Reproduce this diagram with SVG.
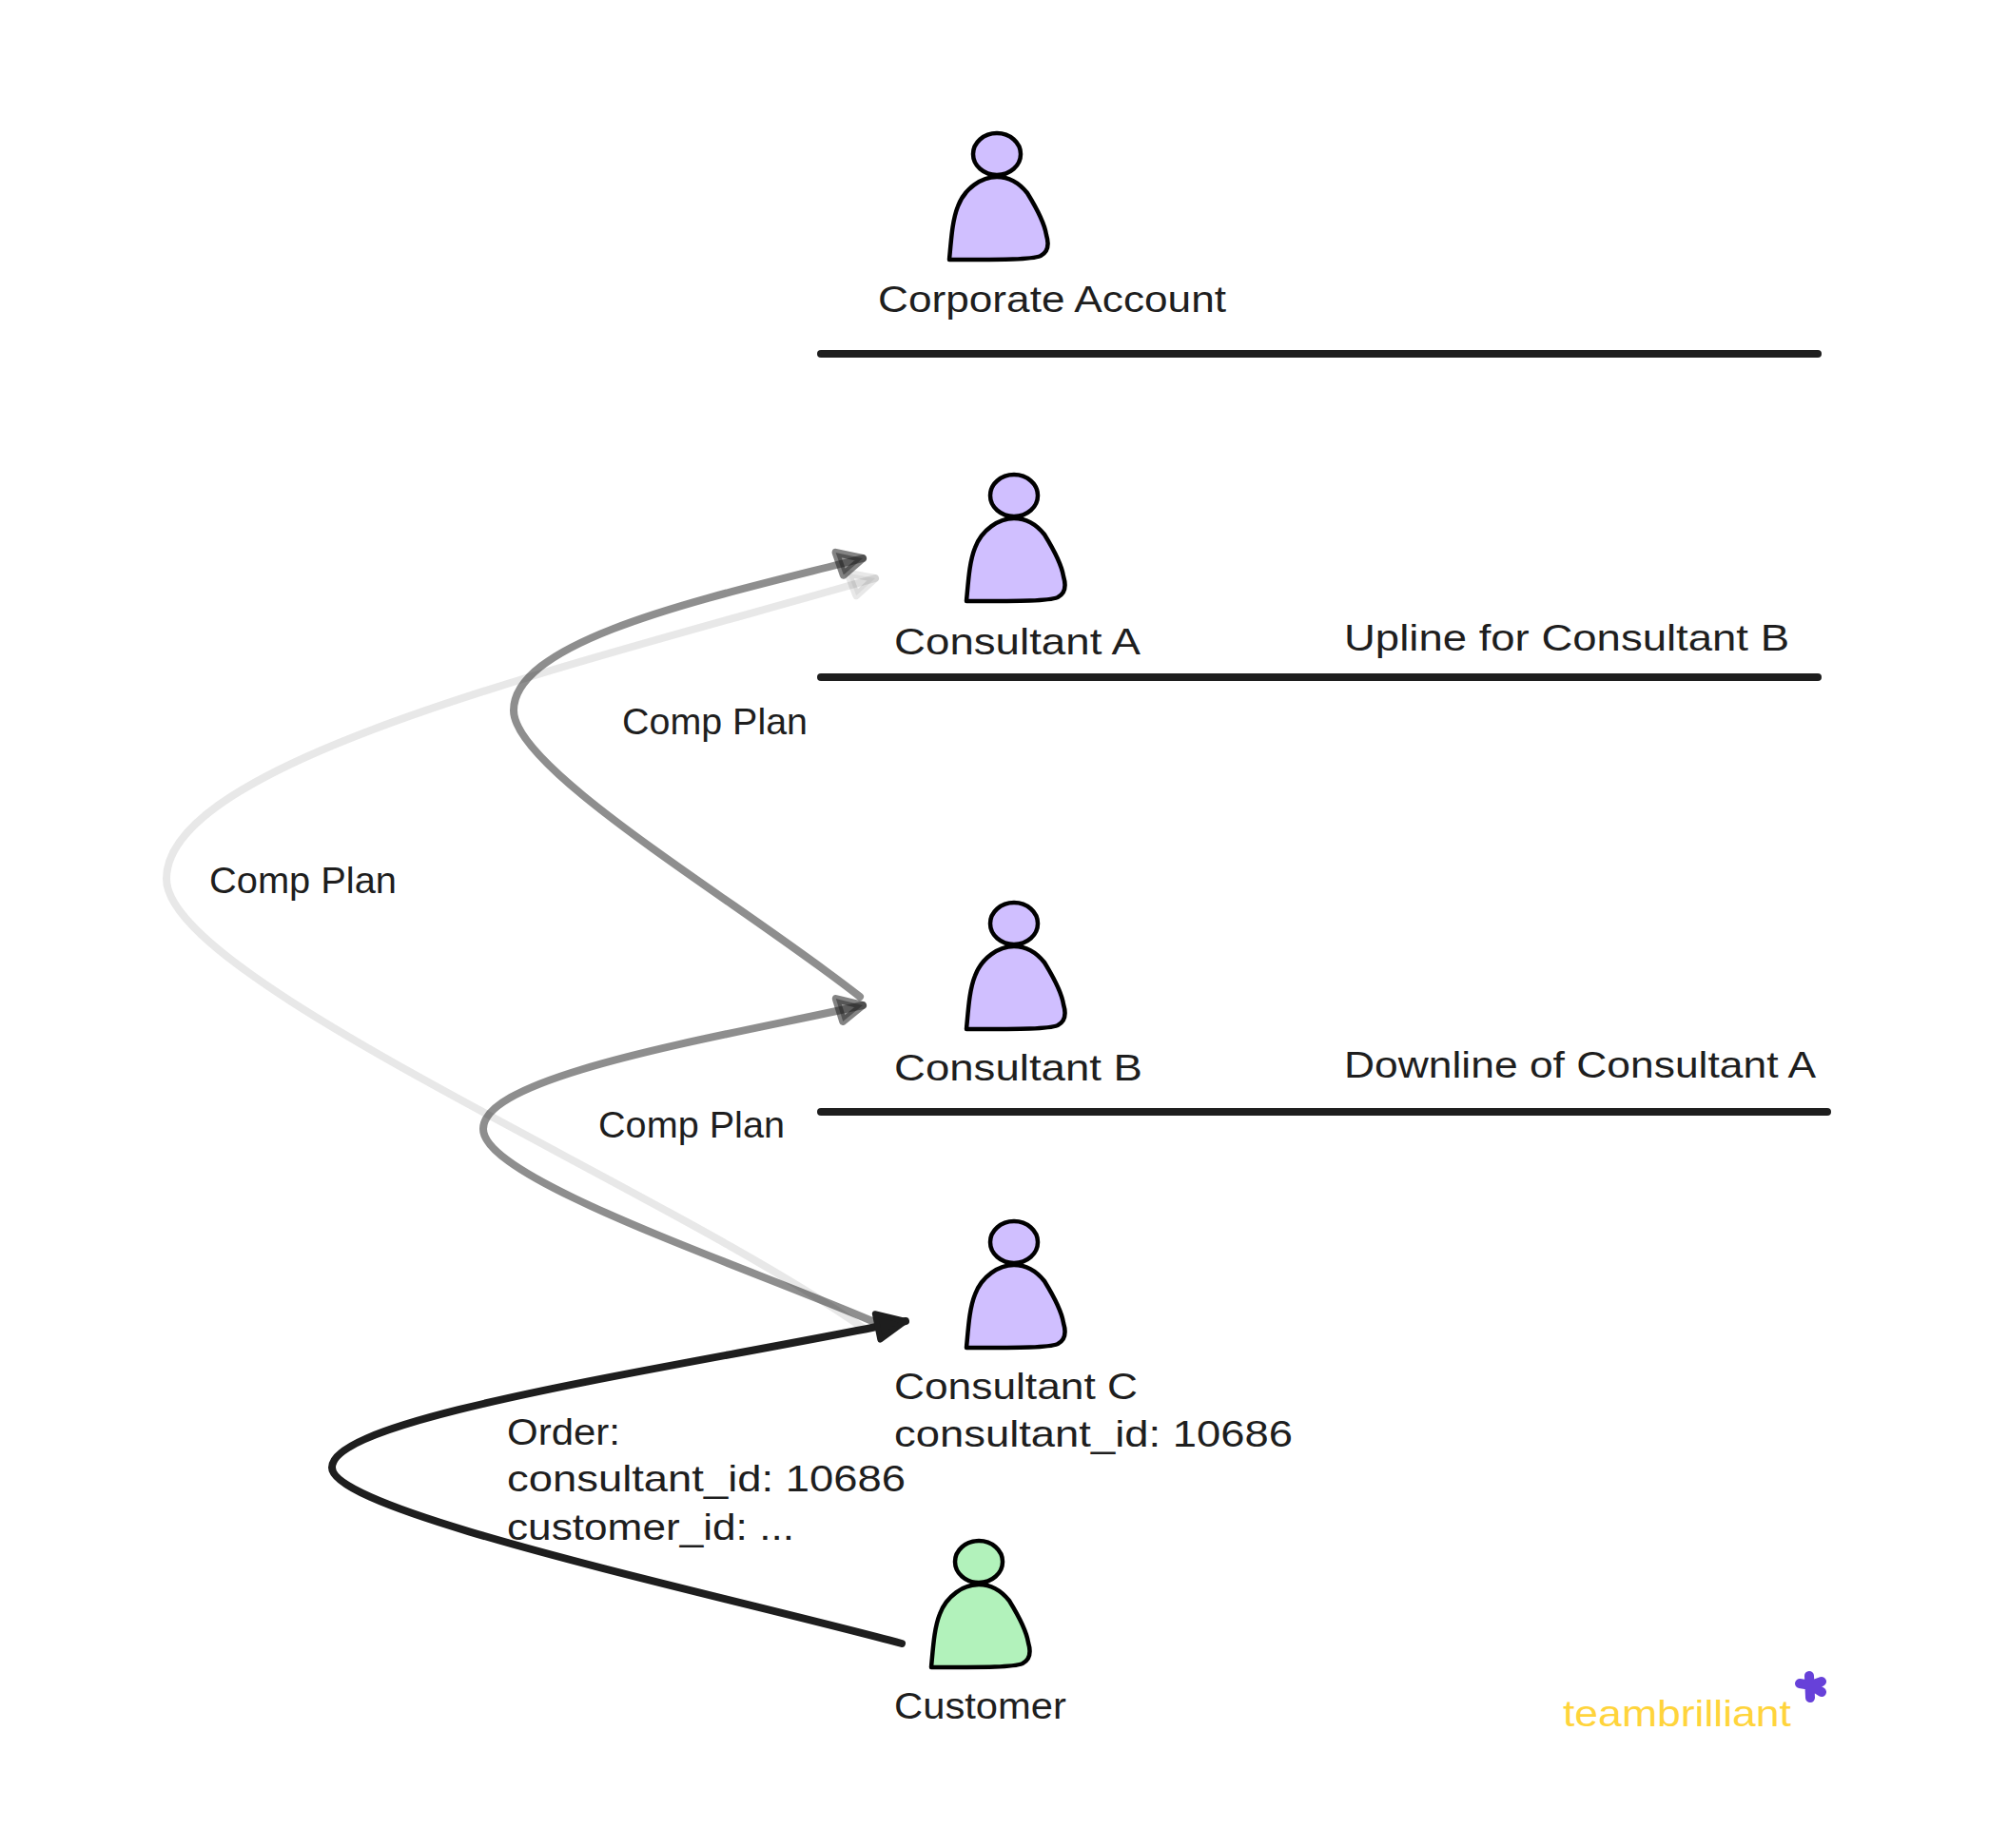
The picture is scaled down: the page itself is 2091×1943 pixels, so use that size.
<svg xmlns="http://www.w3.org/2000/svg" width="2091" height="1943" viewBox="0 0 2091 1943">
<style>
text{font-family:"Liberation Sans",Arial,sans-serif;font-size:39px;fill:#1e1e1e}
.body,.head{stroke:#000;stroke-width:4.5;stroke-linejoin:round}
.violet{fill:#d0bfff}
.green{fill:#b2f2bb}
.rule{stroke:#1e1e1e;stroke-width:8;stroke-linecap:round;fill:none}
.conn{fill:none;stroke:#1e1e1e;stroke-width:8;stroke-linecap:round}
</style>
<defs>
<g id="person">
<ellipse class="head" cx="0" cy="0" rx="25" ry="22"/>
<path class="body" d="M-50,111 C-48,90 -47,70 -41,55 C-34,36 -16,24 0,24 C14,24 24,31 32,41 C40,54 50,72 52,85 C55,95 54,103 46,107 C36,111 10,111 -50,111 Z"/>
</g>
<marker id="head-solid" markerUnits="userSpaceOnUse" viewBox="-40 -24 48 48" markerWidth="48" markerHeight="48" refX="0" refY="0" orient="auto" overflow="visible">
<path d="M0,0 L-30,-14 L-30,14 Z" fill="#1e1e1e" stroke="#1e1e1e" stroke-width="6" stroke-linejoin="round"/>
</marker>
<marker id="head-mid" markerUnits="userSpaceOnUse" viewBox="-40 -24 48 48" markerWidth="48" markerHeight="48" refX="0" refY="0" orient="auto" overflow="visible">
<path d="M0,0 L-26,-13 L-24,12 Z" fill="#1e1e1e" fill-opacity="0.45" stroke="#1e1e1e" stroke-opacity="0.55" stroke-width="8" stroke-linejoin="round"/>
</marker>
<marker id="head-faint" markerUnits="userSpaceOnUse" viewBox="-40 -24 48 48" markerWidth="48" markerHeight="48" refX="0" refY="0" orient="auto" overflow="visible">
<path d="M0,0 L-26,-13 L-24,12 Z" fill="#1e1e1e" fill-opacity="0.06" stroke="#1e1e1e" stroke-opacity="0.1" stroke-width="8" stroke-linejoin="round"/>
</marker>
</defs>
<rect width="2091" height="1943" fill="#fff"/>
<g id="connectors">
<path class="conn" stroke-opacity="0.1" marker-end="url(#head-faint)" d="M907,1396 C700,1250 175,1030 175,924 C175,800 600,700 920,608"/>
<path class="conn" stroke-opacity="0.5" marker-end="url(#head-mid)" d="M904,1048 C780,950 540,810 540,747 C540,670 760,625 907,587"/>
<path class="conn" stroke-opacity="0.5" marker-end="url(#head-mid)" d="M917,1389 C780,1330 508,1240 508,1187 C508,1130 760,1090 907,1057"/>
<path class="conn" marker-end="url(#head-solid)" d="M948,1728 C750,1675 349,1590 349,1543 C349,1490 700,1440 952,1389"/>
</g>
<g id="rules">
<line class="rule" x1="863" y1="372" x2="1911" y2="372"/>
<line class="rule" x1="863" y1="712" x2="1911" y2="712"/>
<line class="rule" x1="863" y1="1169" x2="1921" y2="1169"/>
</g>
<g id="corporate-account"><use href="#person" x="1048" y="162" class="violet"/><text x="923" y="328" textLength="366" lengthAdjust="spacingAndGlyphs">Corporate Account</text></g>
<g id="consultant-a"><use href="#person" x="1066" y="521" class="violet"/><text x="940" y="688" textLength="259" lengthAdjust="spacingAndGlyphs">Consultant A</text></g>
<g id="upline-note"><text x="1413" y="684" textLength="468" lengthAdjust="spacingAndGlyphs">Upline for Consultant B</text></g>
<g id="consultant-b"><use href="#person" x="1066" y="971" class="violet"/><text x="940" y="1136" textLength="261" lengthAdjust="spacingAndGlyphs">Consultant B</text></g>
<g id="downline-note"><text x="1413" y="1133" textLength="496" lengthAdjust="spacingAndGlyphs">Downline of Consultant A</text></g>
<g id="consultant-c"><use href="#person" x="1066" y="1306" class="violet"/><text x="940" y="1471" textLength="256" lengthAdjust="spacingAndGlyphs">Consultant C</text><text x="940" y="1521" textLength="419" lengthAdjust="spacingAndGlyphs">consultant_id: 10686</text></g>
<g id="customer"><use href="#person" x="1029" y="1642" class="green"/><text x="940" y="1807" textLength="181" lengthAdjust="spacingAndGlyphs">Customer</text></g>
<g id="labels">
<text x="654" y="772" textLength="195" lengthAdjust="spacingAndGlyphs">Comp Plan</text>
<text x="220" y="939" textLength="197" lengthAdjust="spacingAndGlyphs">Comp Plan</text>
<text x="629" y="1196" textLength="196" lengthAdjust="spacingAndGlyphs">Comp Plan</text>
<text x="533" y="1519" textLength="119" lengthAdjust="spacingAndGlyphs">Order:</text>
<text x="533" y="1568" textLength="419" lengthAdjust="spacingAndGlyphs">consultant_id: 10686</text>
<text x="533" y="1619" textLength="302" lengthAdjust="spacingAndGlyphs">customer_id: ...</text>
</g>
<g id="logo">
<text x="1643" y="1815" textLength="240" lengthAdjust="spacingAndGlyphs" style="fill:#ffd43b">teambrilliant</text>
<path d="M1902,1762 L1903,1785 M1892,1770 L1904,1772 L1915,1768 M1904,1772 L1915,1779" fill="none" stroke="#6741d9" stroke-width="10" stroke-linecap="round" stroke-linejoin="round"/>
</g>
</svg>
